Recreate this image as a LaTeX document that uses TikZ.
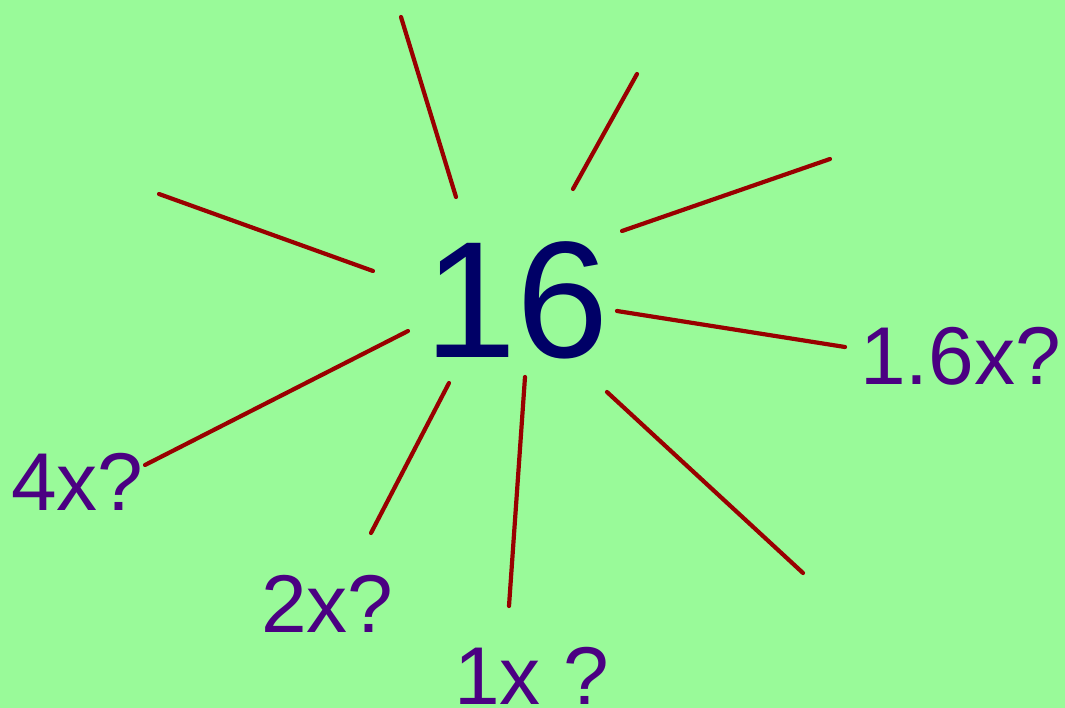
\documentclass[tikz,border=0pt]{standalone}
\usepackage{fontspec}
\setmainfont{Liberation Sans}
\definecolor{bg}{HTML}{99FA99}
\definecolor{ray}{HTML}{990000}
\definecolor{bignum}{HTML}{000066}
\definecolor{lbl}{HTML}{4B0082}
\begin{document}
\begin{tikzpicture}[x=1pt,y=-1pt,
  raystyle/.style={draw=ray,line width=4.2pt,line cap=round},
  lblstyle/.style={anchor=base west,inner sep=0pt,text=lbl,font=\fontsize{82}{98}\selectfont},
  bigstyle/.style={anchor=base west,inner sep=0pt,text=bignum,font=\fontsize{166}{200}\selectfont}]
\fill[bg] (0,0) rectangle (1065,708);
\useasboundingbox (0,0) rectangle (1065,708);
\node[bigstyle] (center) at (424,357) {16};
\node[lblstyle] (l16) at (860,384) {1.6x?};
\node[lblstyle] (l4) at (11,510) {4x?};
\node[lblstyle] (l2) at (261,632) {2x?};
\node[lblstyle] (l1) at (454,704) {1x ?};
\coordinate (a1) at (401,17);  \coordinate (b1) at (456,197);
\coordinate (a2) at (637,74);  \coordinate (b2) at (573,189);
\coordinate (a3) at (830,159); \coordinate (b3) at (622,231);
\coordinate (a4) at (159,194); \coordinate (b4) at (373,271);
\coordinate (a5) at (617,311); \coordinate (b5) at (845,347);
\coordinate (a6) at (408,331); \coordinate (b6) at (145,465);
\coordinate (a7) at (449,383); \coordinate (b7) at (371,533);
\coordinate (a8) at (525,377); \coordinate (b8) at (509,606);
\coordinate (a9) at (607,392); \coordinate (b9) at (803,573);
\foreach \i in {1,...,9} {\draw[raystyle] (a\i) -- (b\i);}
\end{tikzpicture}
\end{document}
